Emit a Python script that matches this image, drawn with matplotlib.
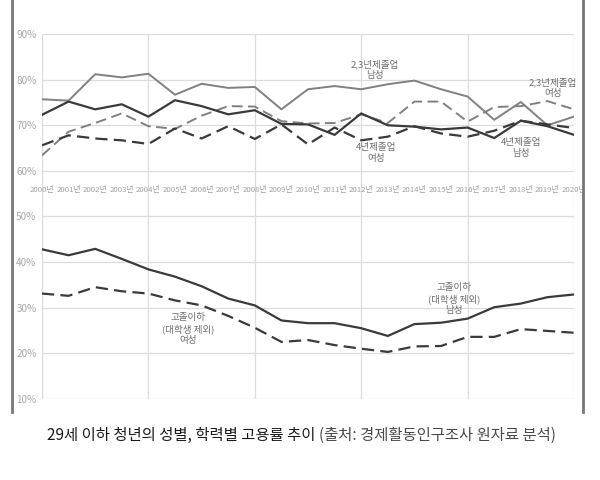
import matplotlib
matplotlib.use("Agg")
import matplotlib.pyplot as plt
from matplotlib.lines import Line2D

plt.rcParams['font.family'] = ['Noto Sans CJK KR', 'DejaVu Sans']

years = list(range(2000, 2021))
year_labels = ["%d년" % y for y in years]

# 2,3년제 졸업 / 4년제 졸업 / 고졸이하 (대학생 제외), 단위 %
college23_m = [75.7, 75.4, 81.2, 80.5, 81.3, 76.7, 79.1, 78.2, 78.4, 73.5, 77.9,
               78.6, 77.9, 79.0, 79.8, 77.9, 76.3, 71.2, 75.1, 70.0, 71.9]
univ4_m = [72.3, 75.2, 73.5, 74.6, 71.9, 75.5, 74.2, 72.4, 73.3, 70.3, 70.2,
           67.9, 72.6, 70.0, 69.7, 69.1, 69.5, 67.2, 71.0, 69.8, 67.9]
college23_f = [63.4, 68.6, 70.5, 72.6, 69.8, 69.2, 72.1, 74.2, 74.1, 70.9, 70.4,
               70.5, 72.4, 70.5, 75.2, 75.2, 70.8, 74.0, 74.2, 75.3, 73.5]
univ4_f = [65.6, 67.8, 67.1, 66.7, 65.9, 69.3, 67.1, 69.8, 67.0, 70.2, 65.8,
           69.5, 66.7, 67.5, 69.8, 68.2, 67.5, 68.8, 71.0, 70.2, 69.4]
hs_m = [42.8, 41.5, 42.9, 40.7, 38.4, 36.8, 34.7, 32.0, 30.5, 27.2, 26.6,
        26.6, 25.5, 23.8, 26.4, 26.7, 27.6, 30.1, 30.9, 32.3, 32.9]
hs_f = [33.1, 32.6, 34.5, 33.6, 33.1, 31.6, 30.5, 28.2, 25.6, 22.5, 22.9,
        21.8, 21.0, 20.3, 21.5, 21.6, 23.6, 23.6, 25.3, 24.9, 24.5]

yticks = [10, 20, 30, 40, 50, 60, 70, 80, 90]
ytick_labels = ["%d%%" % v for v in yticks]

DARK = "#3a3a3a"
GRAY = "#808080"
DASH = (5.5, 2.8)

fig = plt.figure(figsize=(6, 4.8), dpi=100)
ax = fig.add_axes([0.07, 0.169, 0.8867, 0.760])

ax.plot(years, college23_m, color=GRAY, lw=1.4)
ax.plot(years, college23_f, color=GRAY, lw=1.4, ls=(0, DASH))
ax.plot(years, univ4_m, color=DARK, lw=1.6)
ax.plot(years, univ4_f, color=DARK, lw=1.6, ls=(0, DASH))
ax.plot(years, hs_m, color=DARK, lw=1.6)
ax.plot(years, hs_f, color=DARK, lw=1.6, ls=(0, DASH))

ax.set_xlim(2000, 2020)
ax.set_ylim(10, 90)
ax.set_yticks(yticks)
ax.set_yticklabels(ytick_labels)
ax.set_xticks(range(2000, 2021, 4))
ax.set_xticklabels([])
ax.tick_params(length=0, labelsize=7.2, labelcolor="#a8a8a8", pad=4)
ax.grid(True, color="#dcdcdc", lw=0.9)
ax.set_axisbelow(True)
for s in ax.spines.values():
    s.set_visible(False)

for y, lab in zip(years, year_labels):
    ax.text(y, 55.8, lab, ha="center", va="center", fontsize=5.6, color="#a0a0a0")

lab_kw = dict(ha="center", va="center", fontsize=6.9, color="#707070", linespacing=1.3)
ax.text(2012.5, 82.1, "2,3년제졸업\n남성", **lab_kw)
ax.text(2019.2, 78.2, "2,3년제졸업\n여성", **lab_kw)
ax.text(2012.55, 63.9, "4년제졸업\n여성", **lab_kw)
ax.text(2018.0, 65.0, "4년제졸업\n남성", **lab_kw)
ax.text(2005.5, 25.3, "고졸이하\n(대학생 제외)\n여성", **lab_kw)
ax.text(2015.5, 31.9, "고졸이하\n(대학생 제외)\n남성", **lab_kw)

# outer frame lines
for xf in (12 / 600, 583 / 600):
    fig.add_artist(Line2D([xf, xf], [1.0, 1 - 412 / 480], transform=fig.transFigure,
                          color="#777777", lw=2))

ty = 1 - 435 / 480
t1 = fig.text(47 / 600, ty, "29세 이하 청년의 성별, 학력별 고용률 추이 ",
              fontsize=11.1, color="#1a1a1a", va="center", ha="left", fontweight="medium")
fig.canvas.draw()
bb = t1.get_window_extent()
fig.text(bb.x1 / fig.bbox.width, ty, "(출처: 경제활동인구조사 원자료 분석)",
         fontsize=11.1, color="#4a4a4a", va="center", ha="left")

fig.savefig("out.png", dpi=100)
